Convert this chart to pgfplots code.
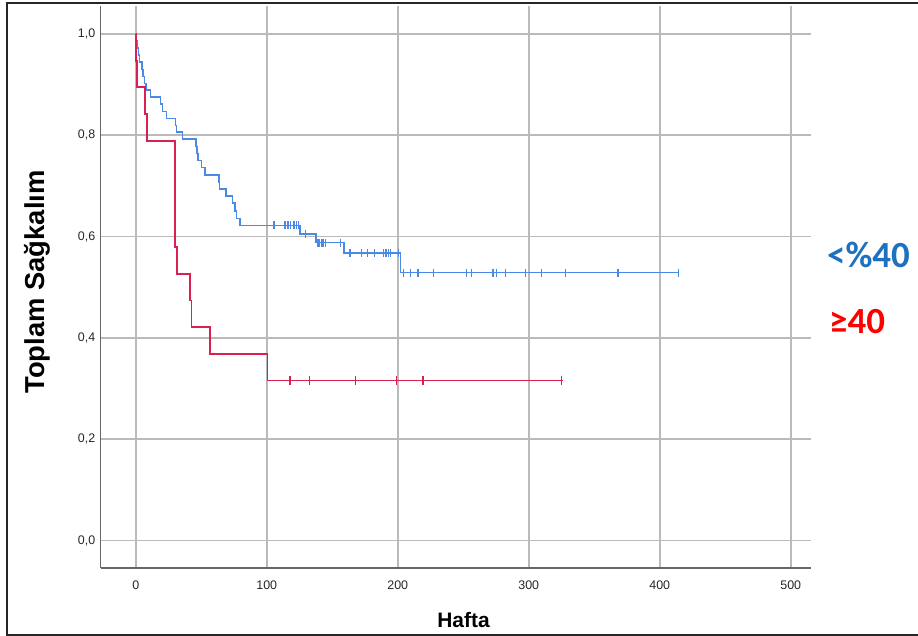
\documentclass[border=0pt]{standalone}
\usepackage{fontspec}
\setmainfont{Liberation Sans}
\newfontfamily\carlito{Carlito}
\usepackage{pgfplots}
\pgfplotsset{compat=1.18}
\definecolor{kmblue}{RGB}{74,138,228}
\definecolor{kmred}{RGB}{218,32,82}
\definecolor{lgblue}{RGB}{30,112,192}
\definecolor{lgred}{RGB}{255,0,0}
\begin{document}
\begin{tikzpicture}[x=1bp,y=1bp]
\path[use as bounding box] (0,0) rectangle (918,636);
\draw[line width=1.8bp, black!85] (918,633) -- (7,633) -- (7,1.2) -- (918,1.2);
\begin{axis}[
  at={(100.5bp,68bp)}, anchor=south west,
  width=710.5bp, height=562bp, scale only axis,
  xmin=-26.9, xmax=515.5, ymin=-0.054, ymax=1.055,
  axis x line*=bottom, axis y line*=left,
  axis line style={draw=black!60, line width=1.5bp, -},
  xtick={0,100,200,300,400,500},
  xticklabels={0,100,200,300,400,500},
  ytick={0,0.2,0.4,0.6,0.8,1.0},
  yticklabels={{0,0},{0,2},{0,4},{0,6},{0,8},{1,0}},
  major tick length=0pt,
  grid=major,
  major grid style={draw=black!27, line width=1.6bp},
  tick label style={font=\fontsize{12.5}{14}\selectfont, text=black!85},
  xticklabel style={anchor=north, inner sep=0pt, yshift=-12.5bp},
  yticklabel style={anchor=east, inner sep=0pt, xshift=-5bp},
  clip=false,
]
\addplot[const plot, color=kmblue, line width=1.6bp, mark=none] coordinates {
(0,1) (0.5,0.986) (1.3,0.972) (2.0,0.958) (3.0,0.944) (4.8,0.930) (5.6,0.916)
(6.6,0.902) (8.0,0.889) (11.2,0.875) (18.8,0.861) (20.4,0.847) (23.4,0.833)
(30.5,0.819) (31.2,0.806) (35.6,0.792) (46.0,0.778) (46.8,0.764) (47.5,0.750)
(50.1,0.736) (52.7,0.722) (63.4,0.708) (64.0,0.694) (68.7,0.680) (73.8,0.666)
(75.8,0.650) (77.0,0.636) (79.4,0.622) (125.5,0.605) (137.5,0.588)
(159.2,0.567) (202.0,0.529) (414.5,0.529)
};
\addplot[only marks, color=kmblue, line width=1.3bp, mark=|, mark size=4bp] coordinates {
(105.6,0.622) (113.9,0.622) (116.3,0.622) (118.2,0.622) (120.9,0.622) (122.5,0.622) (124.0,0.622)
(129.8,0.605)
(138.7,0.588) (140.0,0.588) (141.7,0.588) (143.0,0.588) (145.0,0.588) (156.5,0.588)
(163.6,0.567) (172.3,0.567) (177.0,0.567) (182.0,0.567) (189.0,0.567) (191.0,0.567) (193.0,0.567) (194.6,0.567) (200.5,0.567)
(204.6,0.529) (209.7,0.529) (215.5,0.529) (227.5,0.529) (252.4,0.529) (256.2,0.529) (272.8,0.529)
(275.3,0.529) (282.4,0.529) (297.3,0.529) (309.5,0.529) (328.2,0.529) (368.2,0.529) (414.5,0.529)
};
\addplot[const plot, color=kmred, line width=1.6bp, mark=none] coordinates {
(0,1) (0.3,0.947) (1.0,0.895) (7.0,0.842) (8.7,0.789) (29.8,0.684) (30.1,0.579)
(31.6,0.526) (41.2,0.474) (42.5,0.421) (56.7,0.368) (100.5,0.316) (326,0.316)
};
\addplot[only marks, color=kmred, line width=1.3bp, mark=|, mark size=4.5bp] coordinates {
(117.8,0.316) (132.6,0.316) (167.7,0.316) (199,0.316) (219.3,0.316) (325,0.316)
};
\end{axis}
\node[font=\bfseries\fontsize{21}{24}\selectfont, anchor=base] at (463.5,8) {Hafta};
\node[font=\bfseries\fontsize{27.5}{30}\selectfont, anchor=base, rotate=90] at (44.5,354) {Toplam Sağkalım};
\node[font=\carlito\bfseries\fontsize{37}{40}\selectfont, text=lgblue, anchor=west, inner sep=0pt] at (827,381) {<\%40};
\node[font=\carlito\bfseries\fontsize{37}{40}\selectfont, text=lgred, anchor=west, inner sep=0pt] at (829,314) {≥40};
\end{tikzpicture}
\end{document}
